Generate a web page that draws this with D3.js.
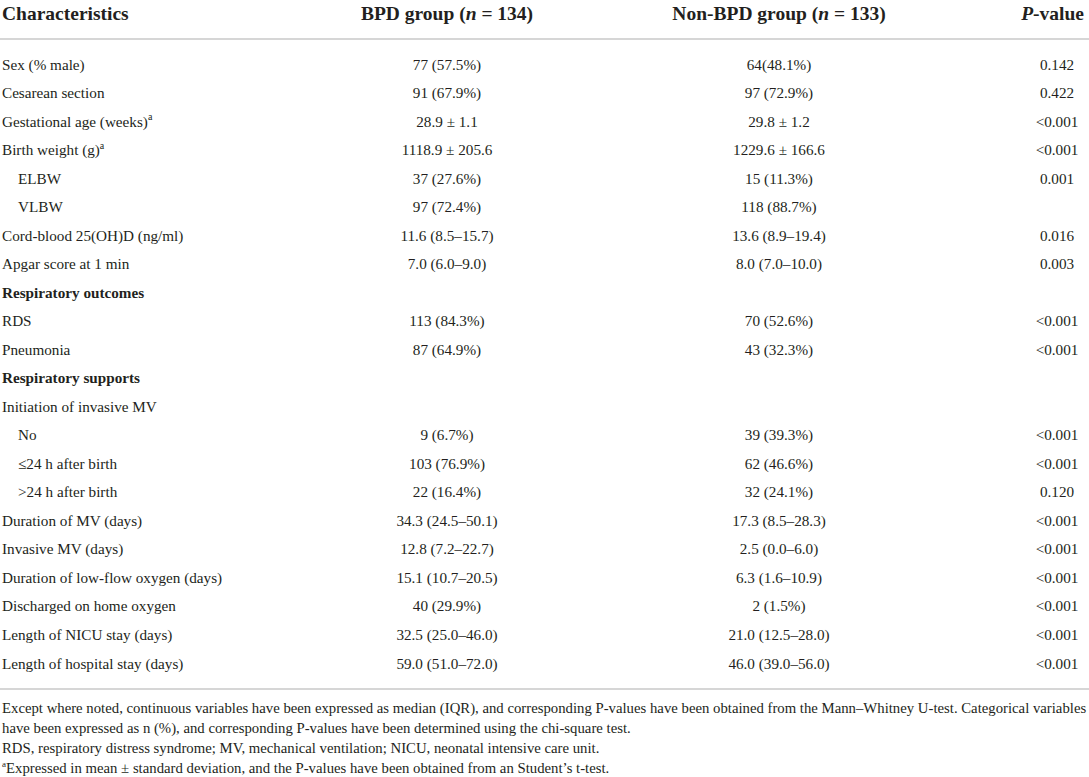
<!DOCTYPE html>
<html>
<head>
<meta charset="utf-8">
<script src="https://cdn.jsdelivr.net/npm/d3@7/dist/d3.min.js"></script>
<style>
  html, body { margin: 0; padding: 0; background: #fff; }
  svg { display: block; }
  text { font-family: "Liberation Serif", "Times New Roman", serif; fill: #231f20; }
</style>
</head>
<body>
<svg id="chart" width="1089" height="777"></svg>
<script>
// ---- data ----
const characteristics = [
  "Sex (% male)", "Cesarean section", "Gestational age (weeks)", "Birth weight (g)",
  "ELBW", "VLBW", "Cord-blood 25(OH)D (ng/ml)", "Apgar score at 1 min",
  "Respiratory outcomes", "RDS", "Pneumonia",
  "Respiratory supports", "Initiation of invasive MV", "No", "≤24 h after birth", ">24 h after birth",
  "Duration of MV (days)", "Invasive MV (days)", "Duration of low-flow oxygen (days)",
  "Discharged on home oxygen", "Length of NICU stay (days)", "Length of hospital stay (days)"
];
const bpdValues = [
  "77 (57.5%)", "91 (67.9%)", "28.9 ± 1.1", "1118.9 ± 205.6",
  "37 (27.6%)", "97 (72.4%)", "11.6 (8.5–15.7)", "7.0 (6.0–9.0)",
  "", "113 (84.3%)", "87 (64.9%)",
  "", "", "9 (6.7%)", "103 (76.9%)", "22 (16.4%)",
  "34.3 (24.5–50.1)", "12.8 (7.2–22.7)", "15.1 (10.7–20.5)",
  "40 (29.9%)", "32.5 (25.0–46.0)", "59.0 (51.0–72.0)"
];
const nonBpdValues = [
  "64(48.1%)", "97 (72.9%)", "29.8 ± 1.2", "1229.6 ± 166.6",
  "15 (11.3%)", "118 (88.7%)", "13.6 (8.9–19.4)", "8.0 (7.0–10.0)",
  "", "70 (52.6%)", "43 (32.3%)",
  "", "", "39 (39.3%)", "62 (46.6%)", "32 (24.1%)",
  "17.3 (8.5–28.3)", "2.5 (0.0–6.0)", "6.3 (1.6–10.9)",
  "2 (1.5%)", "21.0 (12.5–28.0)", "46.0 (39.0–56.0)"
];
const pValues = [
  "0.142", "0.422", "<0.001", "<0.001",
  "0.001", "", "0.016", "0.003",
  "", "<0.001", "<0.001",
  "", "", "<0.001", "<0.001", "0.120",
  "<0.001", "<0.001", "<0.001",
  "<0.001", "<0.001", "<0.001"
];
const indentedRows = ["ELBW", "VLBW", "No", "≤24 h after birth", ">24 h after birth"];
const sectionRows = ["Respiratory outcomes", "Respiratory supports"];
const superscriptRows = ["Gestational age (weeks)", "Birth weight (g)"];
const footnotes = [
  "Except where noted, continuous variables have been expressed as median (IQR), and corresponding P-values have been obtained from the Mann–Whitney U-test. Categorical variables",
  "have been expressed as n (%), and corresponding P-values have been determined using the chi-square test.",
  "RDS, respiratory distress syndrome; MV, mechanical ventilation; NICU, neonatal intensive care unit.",
  "Expressed in mean ± standard deviation, and the P-values have been obtained from an Student’s t-test."
];

// ---- layout ----
const W = 1089;
const svg = d3.select("#chart");
const rows = characteristics.map((c, i) => ({
  label: c, bpd: bpdValues[i], non: nonBpdValues[i], p: pValues[i], i
}));

const y = d3.scalePoint().domain(d3.range(rows.length)).range([64, 663]);
const col = { label: 2, bpd: 447, non: 779, p: 1057 };

// header
const hdr = svg.append("g").attr("font-weight", "bold").attr("font-size", 19.5);
hdr.append("text").attr("x", col.label).attr("y", 13).attr("dominant-baseline", "central")
  .text("Characteristics");
const h1 = hdr.append("text").attr("x", col.bpd).attr("y", 13).attr("text-anchor", "middle").attr("dominant-baseline", "central");
h1.append("tspan").text("BPD group (");
h1.append("tspan").attr("font-style", "italic").text("n");
h1.append("tspan").text(" = 134)");
const h2 = hdr.append("text").attr("x", col.non).attr("y", 13).attr("text-anchor", "middle").attr("dominant-baseline", "central");
h2.append("tspan").text("Non-BPD group (");
h2.append("tspan").attr("font-style", "italic").text("n");
h2.append("tspan").text(" = 133)");
const h3 = hdr.append("text").attr("x", 1084).attr("y", 13).attr("text-anchor", "end").attr("dominant-baseline", "central");
h3.append("tspan").attr("font-style", "italic").text("P");
h3.append("tspan").text("-value");

// rules
svg.append("line").attr("x1", 0).attr("x2", W).attr("y1", 39).attr("y2", 39)
  .attr("stroke", "#c9c9c9").attr("stroke-width", 1.5);
svg.append("line").attr("x1", 0).attr("x2", W).attr("y1", 689).attr("y2", 689)
  .attr("stroke", "#c9c9c9").attr("stroke-width", 1.5);

// body rows
const body = svg.append("g").attr("font-size", 15.2);
const g = body.selectAll("g.row").data(rows).join("g").attr("class", "row")
  .attr("transform", d => `translate(0,${y(d.i)})`);

const lab = g.append("text")
  .attr("x", d => col.label + (indentedRows.includes(d.label) ? 16 : 0))
  .attr("dominant-baseline", "central")
  .attr("font-weight", d => sectionRows.includes(d.label) ? "bold" : null)
  .text(d => d.label);
lab.filter(d => superscriptRows.includes(d.label))
  .append("tspan").attr("font-size", 10).attr("dy", -5).text("a");

g.append("text").attr("x", col.bpd).attr("text-anchor", "middle").attr("dominant-baseline", "central")
  .text(d => d.bpd);
g.append("text").attr("x", col.non).attr("text-anchor", "middle").attr("dominant-baseline", "central")
  .text(d => d.non);
g.append("text").attr("x", col.p).attr("text-anchor", "middle").attr("dominant-baseline", "central")
  .text(d => d.p);

// footnotes
const fy = d3.scalePoint().domain(d3.range(footnotes.length)).range([708, 768]);
const fn = svg.append("g").attr("font-size", 13);
fn.selectAll("text").data(footnotes).join("text")
  .attr("x", 2).attr("y", (d, i) => fy(i)).attr("dominant-baseline", "central")
  .each(function (d, i) {
    const t = d3.select(this);
    if (i === 3) {
      t.append("tspan").attr("font-size", 9).attr("dy", -4).text("a");
      t.append("tspan").attr("dy", 4).text(d);
    } else {
      t.text(d);
    }
  });
// fit first footnote line to the full width like the reference
const first = fn.select("text").node();
const wlen = first.getComputedTextLength();
const scale = 1085 / wlen;
fn.attr("font-size", 13 * scale);
</script>
</body>
</html>
